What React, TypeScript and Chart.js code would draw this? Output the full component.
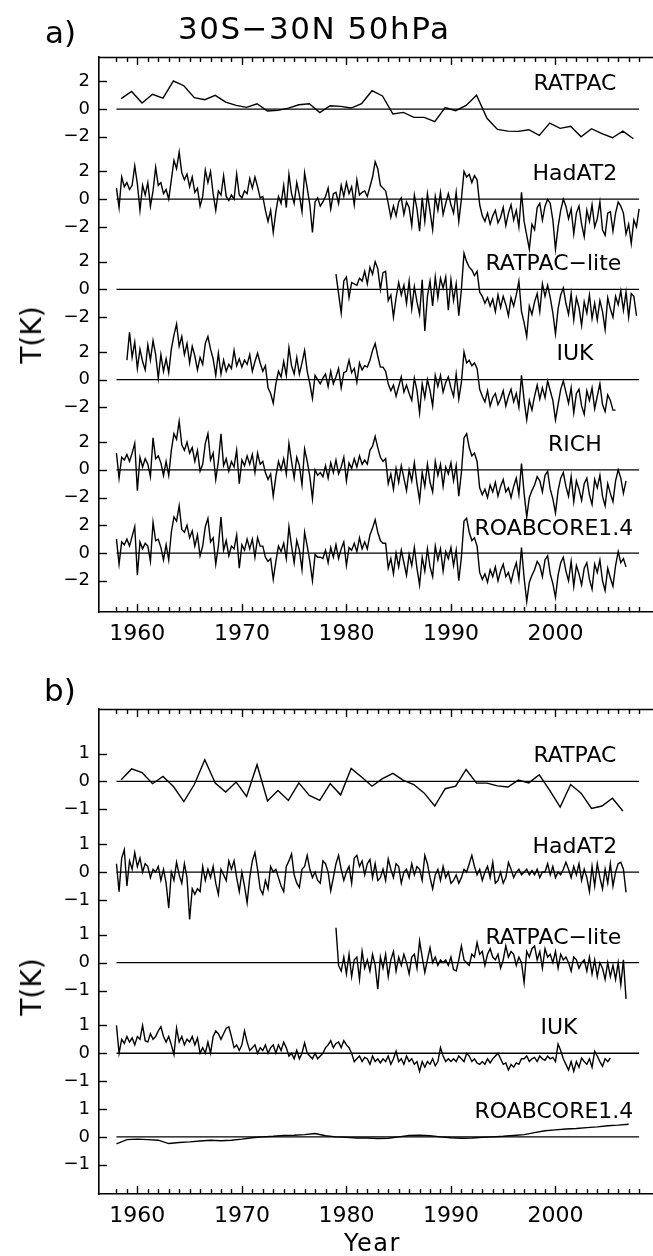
import React, { useEffect, useRef } from "react";
import { Chart, registerables } from "chart.js";

Chart.register(...registerables);

const FONT = "'DejaVu Sans', 'Liberation Sans', sans-serif";

// ---------- x axis ----------
const X_MIN = 1956.33;
const X_MAX = 2010.0;
const DECADES = [1960, 1970, 1980, 1990, 2000];
const MINOR_FIRST = 1958;
const MINOR_LAST = 2008;

// ---------- panel a data (K anomalies) ----------
const RATPAC_A_START = 1958.45; // annual
const RATPAC_A = [
  0.75, 1.27, 0.43, 1.06, 0.79, 2.02, 1.68, 0.82, 0.67, 0.99,
  0.5, 0.26, 0.12, 0.38, -0.14, -0.1, 0.07, 0.31, 0.38, -0.26,
  0.24, 0.19, 0.07, 0.38, 1.32, 0.94, -0.36, -0.24, -0.6, -0.6,
  -0.91, 0.1, -0.12, 0.26, 0.99, -0.67, -1.47, -1.59, -1.61, -1.49,
  -1.9, -1.01, -1.39, -1.25, -2.0, -1.42, -1.78, -2.07, -1.59, -2.14,
];

const HADAT2_A_START = 1958.0; // quarterly
const HADAT2_A = [
  0.8, -0.6, 1.6, 0.9, 1.2, 0.7, 1.0, 2.4, 1.1, -0.8, 1.0, 0.3,
  1.2, -0.5, 0.6, 2.3, 1.0, 1.2, 0.4, 0.7, 0.0, 1.4, 2.8, 2.2,
  3.4, 1.9, 1.4, 1.8, 0.9, 1.6, 0.5, 0.8, -0.5, 0.2, 2.1, 1.2,
  2.0, 0.4, -0.8, 0.6, 0.3, 1.7, 0.2, -0.1, 0.3, 0.0, 1.8, 0.3,
  0.1, 0.6, 0.4, 1.5, 0.8, 1.6, 0.9, 0.1, 0.2, -0.8, -1.6, -0.8,
  -2.4, -0.9, 0.2, -0.3, 1.0, -0.6, 1.8, 0.4, -0.3, 1.2, 0.3, -0.9,
  1.9, 0.8, -0.4, -2.4, -0.2, 0.1, -0.5, -0.2, 0.2, 0.8, -0.7, 0.4,
  0.5, -0.3, 1.0, 0.2, 1.2, 0.4, 0.9, -0.4, 1.4, 0.3, 0.5, 0.6,
  0.2, 0.9, 1.6, 2.7, 2.2, 1.0, 0.8, 0.6, -0.3, -1.3, -0.5, -1.2,
  -0.2, 0.1, -1.1, -0.2, -0.6, -1.9, 0.3, -0.7, -2.3, 0.1, -1.6, 0.4,
  -0.9, -2.2, 0.2, -0.8, 0.5, -1.1, -0.3, 0.4, -0.4, -1.0, 0.5, -1.6,
  0.0, 2.0, 1.6, 1.8, 1.2, 1.7, 1.4, -0.4, -1.2, -1.6, -1.0, -1.8,
  -1.2, -0.8, -1.7, -1.3, -0.6, -1.9, -1.0, -0.4, -1.5, -0.8, -2.0, 0.5,
  -1.6, -2.6, -3.6, -1.8, -2.2, -0.6, -0.3, -1.5, -0.5, 0.0, -0.3, -1.5,
  -3.6, -2.0, -0.8, 0.0, -0.5, -1.4, -0.7, -2.5, -1.0, -0.5, -1.8, -2.7,
  -0.8, -1.6, -0.4, -2.0, -1.4, -0.2, -2.2, -2.6, -1.0, -0.9, -2.3, -1.0,
  -0.2, -0.5, -1.0, -2.5, -1.8, -3.2, -1.5, -2.0, -0.7,
];

const RATPACLITE_A_START = 1979.0; // quarterly
const RATPACLITE_A = [
  1.1, -0.3, -1.7, 0.6, 0.9, -0.6, 0.5, 0.4, 0.3, 0.8, 0.6, 1.3,
  0.4, 1.6, 1.1, 2.0, 1.5, 0.0, 1.2, 1.3, -0.8, -0.4, -2.0, -0.6,
  0.5, -0.4, 0.3, -1.0, 0.6, -1.4, 0.2, -0.9, -1.8, 0.7, -3.0, -0.5,
  0.6, -1.2, 0.9, -0.6, 0.8, 0.1, 0.9, -1.5, 0.7, -0.8, 0.4, -1.9,
  0.0, 2.6, 2.0, 1.6, 1.4, 1.0, 1.3, -0.2, -0.5, -1.0, -0.6, -1.2,
  -0.7, -1.6, -0.4, -1.3, -0.5, -1.1, -1.9, -0.6, -1.2, -0.4, 0.6, -1.6,
  -2.4, -3.4, -1.2, -1.8, -0.9, -0.3, -1.6, 0.4, -0.5, 0.3, -0.6, -1.7,
  -3.2, -1.4, -0.4, 0.1, -1.0, -1.8, -0.3, -2.2, -0.6, -1.3, -2.6, -0.9,
  -1.7, -0.4, -2.1, -1.0, -2.2, -0.8, -1.6, -2.9, -0.6, -1.4, -2.0, -0.5,
  -1.1, -0.1, -1.5, -0.2, -2.0, -0.3, -0.5, -1.9,
];

const IUK_A_START = 1959.0; // quarterly
const IUK_A = [
  1.4, 3.4, 1.6, 2.7, 0.8, 2.2, 1.3, 0.7, 2.5, 1.4, 2.8, 1.8,
  0.1, 1.8, 0.6, 1.5, 0.5, 2.2, 3.2, 4.0, 2.4, 3.1, 1.8, 2.6,
  1.2, 2.4, 1.7, 0.7, 1.6, 1.1, 2.6, 3.1, 2.2, 1.5, 0.3, 1.9,
  0.4, 1.4, 0.6, 1.1, 0.8, 2.1, 1.0, 1.5, 0.9, 1.4, 1.1, 1.8,
  0.6, 1.3, 1.9, 1.2, 0.6, 1.0, -0.6, -1.0, -1.7, -0.3, 0.6, 0.2,
  1.3, 0.3, 2.3, 1.0, 0.4, 1.6, 0.4, 1.2, 2.1, 0.6, -0.3, -1.35,
  0.3, 0.0, -0.3, 0.1, 0.4, -0.5, 0.6, -0.3, 0.2, 0.8, -0.6, 0.5,
  0.6, 1.4, 0.5, 0.8, -0.2, 1.2, 0.7, 1.0, 0.9, 1.4, 2.1, 2.6,
  1.7, 0.9, 0.9, 0.6, -0.3, -0.8, -0.4, -1.2, -0.5, 0.2, -0.9, -0.4,
  -1.0, -1.5, 0.1, -0.8, -2.4, -0.3, -1.3, 0.0, -0.8, -1.9, 0.3, -0.5,
  0.3, -0.9, -0.2, 0.2, -0.6, -1.2, 0.4, -1.4, -0.2, 2.0, 1.2, 1.4,
  1.0, 1.2, 0.8, -0.7, -1.2, -1.6, -0.8, -1.9, -1.3, -1.0, -1.8, -1.4,
  -0.8, -1.9, -1.2, -0.7, -1.6, -1.0, -2.0, 0.3, -1.5, -2.9, -1.5, -2.2,
  -1.2, -0.4, -1.4, -0.6, -1.3, -0.1, -0.8, -1.5, -2.9, -1.8, -0.7, -0.1,
  -0.9, -1.7, -0.6, -2.4, -1.0, -0.7, -1.9, -2.5, -0.8, -1.5, -0.6, -2.1,
  -1.2, -0.3, -1.8, -2.3, -1.1, -1.5, -2.2, -2.2,
];

const RICH_A_START = 1958.0; // quarterly
const RICH_A = [
  1.2, -0.6, 0.9, 0.7, 1.1, 0.6, 1.2, 1.9, -1.5, 0.9, 0.2, 0.8,
  0.4, -0.5, 2.3, 0.8, 1.0, 0.5, -0.4, 0.6, -0.4, 1.4, 2.6, 2.2,
  3.5, 1.8, 1.4, 2.0, 1.2, 1.6, 0.6, 1.4, -0.1, 0.4, 1.9, 2.6,
  0.7, 1.2, -0.7, 0.6, 2.6, 0.3, 0.8, -0.1, 0.6, 0.2, 1.4, -1.0,
  0.7, 0.3, 1.0, 0.4, 1.1, -0.2, 1.2, 0.4, 0.6, -0.2, -0.7, -0.3,
  -1.9, -0.5, 0.6, 0.0, 0.8, -0.3, 1.9, 0.6, -0.6, 0.9, 0.3, -1.1,
  1.5, 0.6, -0.5, -2.1, 0.0, -0.4, -0.2, -0.5, 0.3, -0.6, 0.5, -0.2,
  0.7, -0.3, 0.2, 0.9, -0.8, 0.5, 0.1, 0.8, 0.2, 1.0, 0.4, 0.7,
  0.4, 1.4, 1.7, 2.4, 1.6, 0.9, 0.6, 0.8, -1.0, -0.3, -1.4, 0.1,
  -0.9, 0.3, -0.6, -1.5, 0.0, -0.8, 0.5, -1.0, -2.2, -0.2, -1.2, 0.4,
  -0.9, -1.6, 0.6, -0.4, 0.4, -1.2, 0.2, -0.3, 0.5, -0.8, 0.3, -1.9,
  -0.2, 2.3, 2.6, 1.6, 1.0, 1.2, 0.6, -1.3, -1.8, -1.4, -2.0, -1.1,
  -1.6, -0.9, -1.9, -1.2, -0.7, -1.6, -1.3, -2.0, -1.2, -0.6, -1.8, 0.45,
  -1.7, -3.4, -2.0, -1.5, -1.1, -0.5, -0.8, -1.6, -0.4, -0.1, -1.4, -2.1,
  -3.1, -1.5, -0.6, -0.2, -1.2, -1.9, -0.5, -2.3, -0.8, -1.4, -2.2, -1.0,
  -0.6, -1.8, -2.5, -0.7, -1.3, -0.4, -1.9, -2.6, -1.0, -1.7, -2.3, -0.8,
  0.0, -0.6, -1.7, -0.8,
];

const ROAB_A_START = 1958.0; // quarterly
const ROAB_A = [
  1.0, -0.8, 0.8, 0.6, 1.0, 0.5, 1.2, 1.9, -1.6, 0.8, 0.3, 0.7,
  0.5, -0.6, 2.2, 0.9, 1.0, 0.4, -0.5, 0.6, -0.5, 1.5, 2.6, 2.3,
  3.4, 1.7, 1.5, 2.0, 1.1, 1.6, 0.5, 1.3, -0.2, 0.5, 1.9, 2.5,
  0.8, 1.1, -0.8, 0.5, 2.6, 0.2, 0.9, -0.2, 0.5, 0.3, 1.3, -1.1,
  0.6, 0.2, 1.0, 0.3, 1.0, -0.3, 1.1, 0.5, 0.5, -0.3, -0.6, -0.4,
  -1.9, -0.6, 0.5, 0.1, 0.7, -0.4, 1.9, 0.5, -0.7, 0.9, 0.2, -1.2,
  1.5, 0.5, -0.6, -2.0, -0.1, -0.3, -0.3, -0.4, 0.2, -0.7, 0.4, -0.3,
  0.6, -0.4, 0.3, 0.8, -0.9, 0.4, 0.2, 0.7, 0.1, 1.1, 0.3, 0.8,
  0.3, 1.3, 1.8, 2.4, 1.5, 0.9, 0.7, 0.7, -1.1, -0.4, -1.5, 0.0,
  -1.0, 0.2, -0.7, -1.6, -0.1, -0.9, 0.4, -1.1, -2.3, -0.3, -1.3, 0.3,
  -1.0, -1.7, 0.5, -0.5, 0.3, -1.3, 0.1, -0.4, 0.4, -0.9, 0.2, -2.0,
  -0.3, 2.3, 2.5, 1.5, 0.9, 1.1, 0.5, -1.4, -1.9, -1.5, -2.1, -1.2,
  -1.7, -1.0, -2.0, -1.3, -0.8, -1.7, -1.4, -2.1, -1.3, -0.7, -1.9, 0.4,
  -1.8, -3.5, -2.1, -1.6, -1.2, -0.6, -0.9, -1.7, -0.5, -0.2, -1.5, -2.2,
  -3.2, -1.6, -0.7, -0.3, -1.3, -2.0, -0.6, -2.4, -0.9, -1.5, -2.3, -1.1,
  -0.7, -1.9, -2.6, -0.8, -1.4, -0.5, -2.0, -2.7, -1.1, -1.8, -2.4, -0.9,
  0.1, -0.7, -0.4, -1.0,
];

// ---------- panel b data (K anomalies) ----------
const RATPAC_B_START = 1958.45; // annual
const RATPAC_B = [
  0.06, 0.45, 0.32, -0.08, 0.18, -0.18, -0.72, -0.11, 0.78, -0.06,
  -0.38, -0.02, -0.54, 0.6, -0.7, -0.32, -0.68, -0.05, -0.5, -0.68,
  -0.08, -0.48, 0.47, 0.16, -0.17, 0.1, 0.29, 0.04, -0.11, -0.42,
  -0.88, -0.26, -0.17, 0.43, -0.06, -0.06, -0.16, -0.2, 0.05, -0.05,
  0.24, -0.32, -0.92, -0.11, -0.42, -0.97, -0.88, -0.6, -1.06,
];

const HADAT2_B_START = 1958.0; // quarterly
const HADAT2_B = [
  0.3, -0.7, 0.5, 0.8, -0.5, 0.4, 0.1, 0.7, 0.2, 0.5, 0.0, 0.3,
  0.2, -0.2, 0.1, 0.0, 0.2, -0.3, 0.1, -0.4, -1.3, 0.0, -0.3, 0.35,
  -0.1, -0.4, 0.3, -0.2, -1.7, -0.6, -0.8, -0.6, -0.7, 0.2, -0.3, 0.1,
  -0.2, 0.2, -0.4, -0.8, 0.1, -0.1, -0.3, 0.4, 0.1, 0.4, -0.2, -0.7,
  0.0, -0.5, -1.1, -0.2, 0.4, 0.7, 0.1, -0.6, -0.8, -0.3, -0.6, 0.2,
  0.0, 0.1, -0.2, -0.5, -0.7, 0.2, 0.4, 0.65, -0.1, -0.4, -0.55, 0.1,
  0.2, 0.6, 0.1, -0.2, 0.0, -0.3, -0.4, 0.4, 0.3, 0.0, -0.67, -0.2,
  0.3, 0.6, 0.1, -0.3, 0.0, 0.2, -0.4, 0.5, 0.6, 0.2, 0.4, -0.1,
  0.3, 0.45, -0.2, 0.3, -0.3, -0.2, 0.1, -0.3, 0.47, 0.1, -0.2, 0.3,
  0.2, -0.4, 0.0, 0.1, -0.2, 0.3, -0.1, 0.2, 0.1, -0.3, 0.6, 0.3,
  -0.2, -0.6, -0.1, 0.1, -0.3, 0.2, -0.2, 0.0, -0.4, -0.3, -0.1, -0.4,
  -0.2, 0.1, 0.0, 0.3, 0.6, 0.2, -0.1, 0.1, -0.3, 0.0, 0.2, -0.2,
  0.35, -0.4, -0.3, 0.0, -0.4, -0.2, 0.35, 0.1, -0.2, 0.0, 0.1, -0.1,
  0.0, 0.1, -0.1, 0.05, -0.1, 0.1, -0.2, 0.0, 0.0, 0.3, -0.1, 0.2,
  -0.2, 0.0, -0.1, 0.1, 0.35, 0.1, -0.2, 0.2, -0.1, 0.3, -0.3, 0.1,
  -0.2, -0.7, 0.2, -0.5, 0.3, -0.2, -0.6, 0.1, -0.4, 0.3, -0.5, 0.0,
  0.3, 0.35, 0.1, -0.73,
];

const RATPACLITE_B_START = 1979.0; // quarterly
const RATPACLITE_B = [
  1.25, -0.1, -0.3, 0.2, -0.4, 0.3, -0.5, 0.1, 0.2, -0.6, 0.4, -0.2,
  0.1, -0.3, 0.3, -0.1, -0.95, 0.2, -0.2, 0.3, -0.5, 0.1, 0.4, -0.3,
  0.2, -0.1, 0.3, 0.0, -0.4, 0.2, 0.3, -0.2, 0.78, 0.2, -0.35, 0.1,
  0.54, 0.0, 0.2, -0.1, 0.1, 0.0, 0.1, -0.1, 0.2, -0.25, -0.3, 0.1,
  0.6, 0.1, 0.0, -0.1, 0.3, 0.2, 0.72, 0.3, 0.4, -0.1, 0.3, 0.5,
  0.2, 0.1, 0.3, -0.2, 0.1, 0.6, 0.2, 0.4, 0.3, -0.1, 0.2, 0.0,
  -0.72, 0.4, 0.2, 0.5, 0.6, 0.1, 0.4, -0.2, 0.5, 0.2, 0.3, 0.0,
  0.4, -0.2, 0.3, 0.1, 0.2, 0.0, -0.3, 0.2, 0.1, -0.2, 0.0, 0.1,
  -0.3, 0.2, -0.4, 0.1, -0.5, 0.0, -0.2, -0.6, 0.0, -0.5, -0.1, -0.6,
  0.0, -0.8, 0.1, -1.3,
];

const IUK_B_START = 1958.0; // quarterly
const IUK_B = [
  1.0, 0.0, 0.5, 0.35, 0.6, 0.4, 0.55, 0.3, 0.6, 0.5, 1.0, 0.45,
  0.4, 0.7, 0.5, 0.6, 0.8, 0.95, 0.6, 0.4, 0.6, 0.3, -0.05, 0.9,
  0.4, 0.6, 0.3, 0.5, 0.4, 0.6, 0.3, 0.55, 0.0, 0.2, 0.0, 0.4,
  0.0, 0.6, 0.8, 0.7, 0.5, 0.7, 0.9, 0.95, 0.6, 0.2, 0.3, 0.1,
  0.3, 0.8, 0.4, 0.1, 0.2, 0.3, 0.0, 0.2, 0.1, 0.3, 0.0, 0.2,
  0.3, 0.0, 0.3, 0.1, 0.4, 0.2, -0.1, 0.0, -0.2, 0.1, -0.2, 0.0,
  0.37, 0.0, -0.1, -0.2, 0.0, -0.2, -0.1, 0.0, 0.2, 0.3, 0.45, 0.2,
  0.35, 0.4, 0.2, 0.45, 0.3, 0.2, 0.0, -0.3, -0.2, -0.1, -0.3, -0.15,
  -0.2, -0.4, -0.1, -0.3, -0.2, -0.35, -0.2, -0.3, -0.1, -0.4, -0.2, 0.07,
  -0.3, -0.2, -0.4, -0.1, -0.3, -0.2, -0.4, -0.3, -0.65, -0.3, -0.5, -0.3,
  -0.4, -0.2, -0.45, -0.3, 0.2, -0.1, -0.3, -0.2, -0.3, -0.2, -0.3, -0.1,
  -0.2, -0.3, 0.0, -0.1, -0.3, -0.2, -0.35, -0.4, -0.3, -0.4, -0.2, -0.35,
  -0.2, -0.1, 0.0, -0.2, -0.4, -0.35, -0.6, -0.4, -0.5, -0.35, -0.4, -0.2,
  -0.2, -0.1, -0.3, -0.2, -0.15, -0.3, -0.1, -0.2, -0.25, -0.1, -0.2, -0.15,
  -0.3, 0.33, 0.1, -0.2, -0.4, -0.6, -0.3, -0.65, -0.3, -0.5, -0.17, -0.3,
  -0.4, -0.2, -0.5, 0.07, -0.1, -0.3, -0.47, -0.2, -0.3, -0.17,
];

const ROAB_B_START = 1958.0; // annual
const ROAB_B = [
  -0.25, -0.1, -0.08, -0.1, -0.12, -0.24, -0.2, -0.18, -0.15, -0.12,
  -0.14, -0.12, -0.08, -0.03, 0.0, 0.02, 0.05, 0.06, 0.08, 0.12,
  0.04, 0.0, -0.02, -0.04, -0.04, -0.06, -0.05, 0.0, 0.05, 0.06,
  0.04, 0.0, -0.03, -0.05, -0.04, -0.02, 0.0, 0.02, 0.05, 0.08,
  0.15, 0.22, 0.25, 0.28, 0.3, 0.33, 0.36, 0.4, 0.42, 0.45,
];

// ---------- panel layout (stacking offsets, label spots) ----------
const OFFSETS_A = [0, -6.5, -13, -19.5, -26, -32];
const OFFSETS_B = [0, -3.25, -6.5, -9.75, -12.75];
const TICKS_A = [2, 0, -2];
const TICKS_B = [1, 0, -1];

type Series = { name: string; start: number; step: number; values: number[]; labelYear: number; labelRise: number };

const SERIES_A: Series[] = [
  { name: "RATPAC", start: RATPAC_A_START, step: 1, values: RATPAC_A, labelYear: 2001.86, labelRise: 27 },
  { name: "HadAT2", start: HADAT2_A_START, step: 0.25, values: HADAT2_A, labelYear: 2001.86, labelRise: 27 },
  { name: "RATPAC\u2212lite", start: RATPACLITE_A_START, step: 0.25, values: RATPACLITE_A, labelYear: 1999.8, labelRise: 27 },
  { name: "IUK", start: IUK_A_START, step: 0.25, values: IUK_A, labelYear: 2001.86, labelRise: 27.5 },
  { name: "RICH", start: RICH_A_START, step: 0.25, values: RICH_A, labelYear: 2001.86, labelRise: 27 },
  { name: "ROABCORE1.4", start: ROAB_A_START, step: 0.25, values: ROAB_A, labelYear: 1999.85, labelRise: 26 },
];

const SERIES_B: Series[] = [
  { name: "RATPAC", start: RATPAC_B_START, step: 1, values: RATPAC_B, labelYear: 2001.86, labelRise: 27.5 },
  { name: "HadAT2", start: HADAT2_B_START, step: 0.25, values: HADAT2_B, labelYear: 2001.86, labelRise: 27.5 },
  { name: "RATPAC\u2212lite", start: RATPACLITE_B_START, step: 0.25, values: RATPACLITE_B, labelYear: 1999.8, labelRise: 27 },
  { name: "IUK", start: IUK_B_START, step: 0.25, values: IUK_B, labelYear: 2000.33, labelRise: 27.5 },
  { name: "ROABCORE1.4", start: ROAB_B_START, step: 1, values: ROAB_B, labelYear: 1999.85, labelRise: 27 },
];

type PanelCfg = {
  top: number; height: number; plotTop: number; plotBottom: number;
  yMin: number; yMax: number; offsets: number[]; tickLabels: number[]; series: Series[];
};

const PANEL_A: PanelCfg = {
  top: 0, height: 650, plotTop: 57, plotBottom: 612, yMin: -36.25, yMax: 3.75,
  offsets: OFFSETS_A, tickLabels: TICKS_A, series: SERIES_A,
};
const PANEL_B: PanelCfg = {
  top: 650, height: 606, plotTop: 59, plotBottom: 544, yMin: -14.8, yMax: 2.6,
  offsets: OFFSETS_B, tickLabels: TICKS_B, series: SERIES_B,
};

const CANVAS_W = 680;
const PLOT_LEFT = 99;
const PLOT_RIGHT = 660;

function toPoints(start: number, step: number, values: number[], off: number) {
  return values.map((v, i) => ({ x: start + i * step, y: v + off }));
}

function fmt(t: number) {
  return t < 0 ? "\u2212" + String(-t) : String(t);
}

function Panel({ cfg }: { cfg: PanelCfg }) {
  const ref = useRef<HTMLCanvasElement>(null);
  useEffect(() => {
    const canvas = ref.current!;
    const datasets: any[] = [];
    cfg.series.forEach((s, k) => {
      const off = cfg.offsets[k];
      datasets.push({
        data: [{ x: MINOR_FIRST, y: off }, { x: MINOR_LAST, y: off }],
        borderColor: "#000", borderWidth: 1.3, pointRadius: 0, tension: 0,
      });
      datasets.push({
        data: toPoints(s.start, s.step, s.values, off),
        borderColor: "#000", borderWidth: 1.4, pointRadius: 0, tension: 0,
      });
    });
    const yTickVals: number[] = [];
    cfg.offsets.forEach((off) => cfg.tickLabels.forEach((t) => yTickVals.push(off + t)));
    const labelFor = (v: number) => {
      let best = cfg.offsets[0];
      cfg.offsets.forEach((o) => { if (Math.abs(v - o) < Math.abs(v - best)) best = o; });
      return fmt(Math.round((v - best) * 100) / 100);
    };

    const drawSeg = (ctx: CanvasRenderingContext2D, x1: number, y1: number, x2: number, y2: number) => {
      ctx.beginPath();
      ctx.moveTo(x1, y1);
      ctx.lineTo(x2, y2);
      ctx.stroke();
    };

    const decor = {
      id: "decor",
      afterDatasetsDraw(chart: any) {
        const ctx: CanvasRenderingContext2D = chart.ctx;
        const a = chart.chartArea;
        const xs = chart.scales.x;
        const ys = chart.scales.y;
        ctx.save();
        ctx.setLineDash([]);
        ctx.globalAlpha = 1;
        ctx.strokeStyle = "rgb(0,0,0)";
        ctx.lineWidth = 1.6;
        drawSeg(ctx, a.left, a.top + 0.5, a.right, a.top + 0.5);
        ctx.lineWidth = 1.4;
        for (let yr = MINOR_FIRST; yr <= MINOR_LAST; yr++) {
          const px = Math.round(xs.getPixelForValue(yr)) + 0.5;
          const len = yr % 10 === 0 ? 8 : 5;
          drawSeg(ctx, px, a.bottom, px, a.bottom - len);
          drawSeg(ctx, px, a.top, px, a.top + len);
        }
        yTickVals.forEach((v) => {
          const py = Math.round(ys.getPixelForValue(v)) + 0.5;
          drawSeg(ctx, a.left, py, a.left + 8, py);
        });
        ctx.fillStyle = "#000";
        ctx.font = `22px ${FONT}`;
        ctx.textAlign = "center";
        ctx.textBaseline = "alphabetic";
        cfg.series.forEach((s, k) => {
          const px = xs.getPixelForValue(s.labelYear);
          const py = ys.getPixelForValue(cfg.offsets[k]) - s.labelRise + 8;
          ctx.fillText(s.name, px, py);
        });
        ctx.restore();
      },
    };

    const chart = new Chart(canvas, {
      type: "line",
      data: { datasets },
      options: {
        animation: false,
        responsive: false,
        events: [],
        layout: { padding: { top: cfg.plotTop, right: CANVAS_W - PLOT_RIGHT, left: 0, bottom: 0 } },
        plugins: { legend: { display: false }, tooltip: { enabled: false }, title: { display: false } },
        scales: {
          x: {
            type: "linear",
            min: X_MIN,
            max: X_MAX,
            grid: { display: false, drawTicks: false },
            border: { display: true, color: "#000", width: 1.6 },
            afterBuildTicks: (s: any) => { s.ticks = DECADES.map((v) => ({ value: v })); },
            afterFit: (s: any) => { s.height = cfg.height - cfg.plotBottom; },
            ticks: {
              color: "#000", font: { family: FONT, size: 22 }, padding: 9,
              autoSkip: false, maxRotation: 0, callback: (v: any) => String(v),
            },
          },
          y: {
            type: "linear",
            min: cfg.yMin,
            max: cfg.yMax,
            grid: { display: false, drawTicks: false },
            border: { display: true, color: "#000", width: 1.6 },
            afterBuildTicks: (s: any) => { s.ticks = yTickVals.map((v) => ({ value: v })); },
            afterFit: (s: any) => { s.width = PLOT_LEFT; },
            ticks: {
              color: "#000", font: { family: FONT, size: 18 }, padding: 9,
              autoSkip: false, callback: (v: any) => labelFor(Number(v)),
            },
          },
        },
      } as any,
      plugins: [decor],
    });
    return () => chart.destroy();
  }, [cfg]);
  return (
    <canvas
      ref={ref}
      width={CANVAS_W}
      height={cfg.height}
      style={{ position: "absolute", left: 0, top: cfg.top, width: CANVAS_W, height: cfg.height }}
    />
  );
}

function Txt(props: { text: string; left: number; baseline: number; size: number; spacing?: number }) {
  const { text, left, baseline, size, spacing } = props;
  return (
    <div
      style={{
        position: "absolute", left, top: baseline - 0.846 * size, fontFamily: FONT, fontSize: size,
        lineHeight: `${size}px`, whiteSpace: "nowrap", color: "#000", letterSpacing: spacing ?? 0,
      }}
    >
      {text}
    </div>
  );
}

function YTitle({ cx, cy }: { cx: number; cy: number }) {
  return (
    <div
      style={{
        position: "absolute", left: cx, top: cy, fontFamily: FONT, fontSize: 28, lineHeight: "28px",
        whiteSpace: "nowrap", color: "#000", transform: "translate(-50%, -50%) rotate(-90deg)",
      }}
    >
      T(K)
    </div>
  );
}

export default function App() {
  return (
    <div
      style={{
        position: "absolute", left: 0, top: 0, width: 653, height: 1256, overflow: "hidden", background: "#fff",
      }}
    >
      <Panel cfg={PANEL_A} />
      <Panel cfg={PANEL_B} />
      <Txt text="a)" left={45} baseline={43} size={31} />
      <Txt text={"30S\u221230N 50hPa"} left={178} baseline={39.3} size={31} spacing={1.5} />
      <Txt text="b)" left={44} baseline={701.7} size={31} />
      <Txt text="Year" left={344} baseline={1251.7} size={24} spacing={1.5} />
      <YTitle cx={32} cy={335} />
      <YTitle cx={32} cy={987} />
    </div>
  );
}
